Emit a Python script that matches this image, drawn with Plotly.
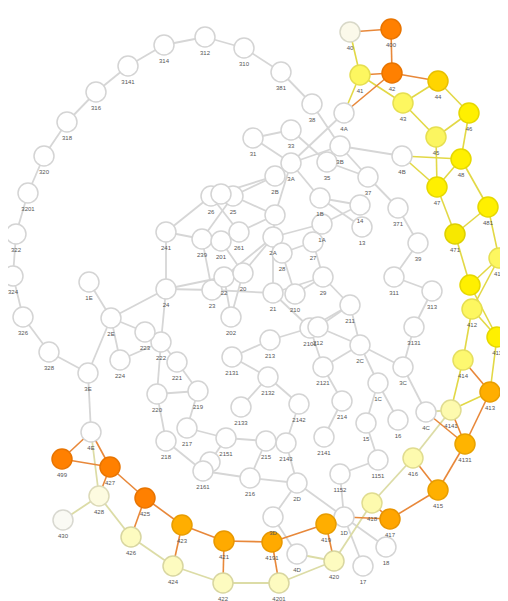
import plotly.graph_objects as go

# ---- node data (name, x, y in layout units, fill colour) ----
node_names = [
    "381","310","312","314","3141","316","318","320","3201","322","324","326","328","3E","2E","1E","4E",
    "38","4A","3B","37","4B","31","33","35","3A","2B","371","39","311","313","3131","3C","4C",
    "26","25","2X","241","239","201","261","2A1","2A","1B","14","13","1A","27","28",
    "24","23","22","20","202","21","210","29","211","2101","212","213","2C","2121",
    "2131","2132","2133","2142","214","2143","215","2141","2151","2152","2161","216","217","218","219","220",
    "221","222","223","224","1C","15","16","1151","1152","1D","17","18","2D","3D","4D",
    "40","400","41","42","44","43","46","45","48","47","481","471","410","49","412","411","414","413",
    "4141","4131","416","415","418","417","419","420","4191","4201","421","422","423","424","425","426",
    "427","428","499","430",
]
node_x = [
    281,244,205,164,128,96,67,44,28,16,13,23,49,88,111,89,91,
    312,344,340,368,402,253,291,327,291,275,398,418,394,432,414,403,426,
    211,233,221,166,202,221,239,275,273,320,360,362,322,313,282,
    166,212,224,243,231,273,295,323,350,310,318,270,360,323,
    232,268,241,299,342,286,266,324,226,210,203,250,187,166,198,157,
    177,161,145,120,378,366,398,378,340,344,363,386,297,273,297,
    350,391,360,392,438,403,469,436,461,437,488,455,499,470,472,497,463,490,
    451,465,413,438,372,390,326,334,272,279,224,223,182,173,145,131,
    110,99,62,63,
]
node_y = [
    72,48,37,45,66,92,122,156,193,234,276,317,352,373,318,282,432,
    104,113,146,177,156,138,130,162,163,176,208,243,277,291,327,367,412,
    196,196,194,232,239,241,232,215,237,198,205,227,224,242,253,
    289,290,277,273,317,293,294,277,305,328,327,340,345,367,
    357,377,407,404,401,443,441,437,438,462,471,478,428,441,391,394,
    362,342,332,360,383,423,420,460,474,517,566,547,483,517,554,
    32,29,75,73,81,103,113,137,159,187,207,234,258,285,309,337,360,392,
    410,444,458,490,503,519,524,561,542,583,541,583,525,566,498,537,
    467,496,459,520,
]
node_labels = [
    "381","310","312","314","3141","316","318","320","3201","322","324","326","328","3E","2E","1E","4E",
    "38","4A","3B","37","4B","31","33","35","3A","2B","371","39","311","313","3131","3C","4C",
    "26","25","","241","239","201","261","","2A","1B","14","13","1A","27","28",
    "24","23","22","20","202","21","210","29","211","2101","212","213","2C","2121",
    "2131","2132","2133","2142","214","2143","215","2141","2151","","2161","216","217","218","219","220",
    "221","222","223","224","1C","15","16","1151","1152","1D","17","18","2D","3D","4D",
    "40","400","41","42","44","43","46","45","48","47","481","471","410","","412","411","414","413",
    "4141","4131","416","415","418","417","419","420","4191","4201","421","422","423","424","425","426",
    "427","428","499","430",
]
node_fill = {
    "40":"#fbf9ea","400":"#ff8000","41":"#fdf760","42":"#ff8000","44":"#ffd500","43":"#fdf760",
    "46":"#fff000","45":"#fbf560","48":"#fff000","47":"#fff000","481":"#fff000","471":"#f7e800",
    "410":"#fdf760","49":"#fff000","412":"#fdf760","411":"#fff000","414":"#fdf870","413":"#ffae00",
    "4141":"#fdfaae","4131":"#ffb400","416":"#fdfaae","415":"#ffb000","418":"#fdfaae","417":"#ffa500",
    "419":"#ffae00","420":"#fdfbc0","4191":"#ffaa00","4201":"#fdfbc0","421":"#ffaa00","422":"#fdfbc0",
    "423":"#ffae00","424":"#fdfbc0","425":"#ff8000","426":"#fdfbc0","427":"#ff8000","428":"#fdfbe0",
    "499":"#ff8000","430":"#fafaf4",
}
node_line = {
    "#ff8000":"#e87400","#ffd500":"#e8c000","#fff000":"#e6d800","#f7e800":"#ddd000",
    "#fdf760":"#e6df50","#fbf560":"#e6df50","#fdf870":"#e6df60","#ffae00":"#e89d00",
    "#ffb400":"#e8a200","#ffb000":"#e89e00","#ffa500":"#e89400","#ffaa00":"#e89800",
    "#fdfaae":"#e0dc90","#fdfbc0":"#d8d6a0","#fdfbe0":"#dcdab8","#fbf9ea":"#d8d8c8","#fafaf4":"#d8d8d0",
}

# ---- edges ----
gray_edges = [
    ("381","310"),("310","312"),("312","314"),("314","3141"),("3141","316"),("316","318"),("318","320"),
    ("320","3201"),("3201","322"),("322","324"),("324","326"),("326","328"),("328","3E"),("3E","2E"),
    ("2E","1E"),("3E","4E"),("381","38"),("38","3B"),("3B","37"),("4A","3A"),("3B","4B"),("31","33"),
    ("33","35"),("31","3A"),("3A","3B"),("35","37"),("3A","2B"),("37","371"),("3A","1B"),("3A","2A1"),
    ("2B","26"),("2B","25"),("26","241"),("26","261"),("25","239"),("25","2A1"),("261","2A1"),
    ("241","239"),("239","23"),("241","24"),("201","20"),("24","22"),("24","23"),("23","21"),
    ("22","2A"),("20","2A"),("202","22"),("202","20"),("2A1","2A"),("2A","21"),("2A","28"),
    ("2A","1A"),("1B","14"),("1B","13"),("1A","14"),("1A","27"),("27","28"),("27","29"),("28","210"),
    ("29","21"),("29","210"),("29","211"),("21","2101"),("211","2101"),("211","212"),("211","2C"),
    ("212","2C"),("2101","2121"),("2121","2C"),("2121","214"),("213","2101"),("213","2131"),
    ("2131","2132"),("2132","2142"),("2132","2133"),("2142","2143"),("214","2141"),("2C","1C"),
    ("2C","3C"),("1C","15"),("1C","16"),("3C","3131"),("3131","313"),("313","311"),("311","39"),
    ("39","371"),("3C","4C"),("24","2E"),("2E","223"),("2E","224"),("224","222"),("223","222"),
    ("24","222"),("222","221"),("222","220"),("221","219"),("220","219"),("220","218"),("219","217"),
    ("217","2151"),("2151","215"),("218","2161"),("2161","216"),("216","215"),("216","2D"),
    ("2143","2D"),("215","2143"),("2D","1D"),("2D","3D"),("3D","4D"),("1D","1152"),("1152","1151"),
    ("1151","15"),("1D","17"),("1D","18"),("2151","2152"),("2152","2161"),
]
orange_edges = [
    ("40","400"),("400","42"),("41","42"),("42","44"),("42","4A"),("414","413"),("413","4131"),
    ("4141","4131"),("4C","4131"),("4131","415"),("416","415"),("415","417"),("418","417"),("417","1D"),
    ("419","4191"),("419","420"),("4191","421"),("4191","4201"),("421","422"),("421","423"),
    ("423","424"),("423","425"),("425","426"),("425","427"),("427","428"),("427","499"),
    ("499","4E"),("4E","427"),
]
yellow_edges = [
    ("40","41"),("41","4A"),("41","43"),("43","44"),("44","46"),("43","45"),("45","46"),("45","47"),
    ("46","48"),("47","48"),("4B","47"),("4B","48"),("47","471"),("48","481"),("471","481"),
    ("481","410"),("471","49"),("410","49"),("410","412"),("49","411"),("412","411"),("412","414"),
    ("411","413"),("414","4141"),("4141","413"),
]
pale_edges = [
    ("4C","4141"),("4141","416"),("416","418"),("418","420"),("420","4201"),("4D","420"),
    ("4201","422"),("422","424"),("424","426"),("426","428"),("4E","428"),("428","430"),
]

pos = {n: (x, y) for n, x, y in zip(node_names, node_x, node_y)}

def edge_xy(edges):
    xs, ys = [], []
    for a, b in edges:
        xs += [pos[a][0], pos[b][0], None]
        ys += [pos[a][1], pos[b][1], None]
    return xs, ys

fig = go.Figure()
for edges, col, w in [(gray_edges, "#d6d6d6", 1.8), (pale_edges, "#dcdca6", 1.8),
                      (yellow_edges, "#e2d846", 1.6), (orange_edges, "#e8883a", 1.6)]:
    ex, ey = edge_xy(edges)
    fig.add_trace(go.Scatter(x=ex, y=ey, mode="lines", line=dict(color=col, width=w),
                             hoverinfo="skip", showlegend=False, cliponaxis=False))

fills = [node_fill.get(n, "#ffffff") for n in node_names]
lines = [node_line.get(f, "#d4d4d4") for f in fills]
fig.add_trace(go.Scatter(
    x=node_x, y=node_y, mode="markers+text", text=node_labels,
    textposition="bottom center",
    textfont=dict(size=6, color="#555555", family="Liberation Sans"),
    marker=dict(size=20, color=fills, line=dict(color=lines, width=1.5)),
    hoverinfo="text", showlegend=False, cliponaxis=False,
))

# the page body adds an 8px offset, so the axes start at 8 to keep page pixels aligned
fig.update_layout(
    width=508, height=601, autosize=False,
    margin=dict(l=0, r=0, t=0, b=0),
    paper_bgcolor="white", plot_bgcolor="white",
    xaxis=dict(range=[8, 516], visible=False, fixedrange=True),
    yaxis=dict(range=[609, 8], visible=False, fixedrange=True),
)
fig.write_html("out.html")
